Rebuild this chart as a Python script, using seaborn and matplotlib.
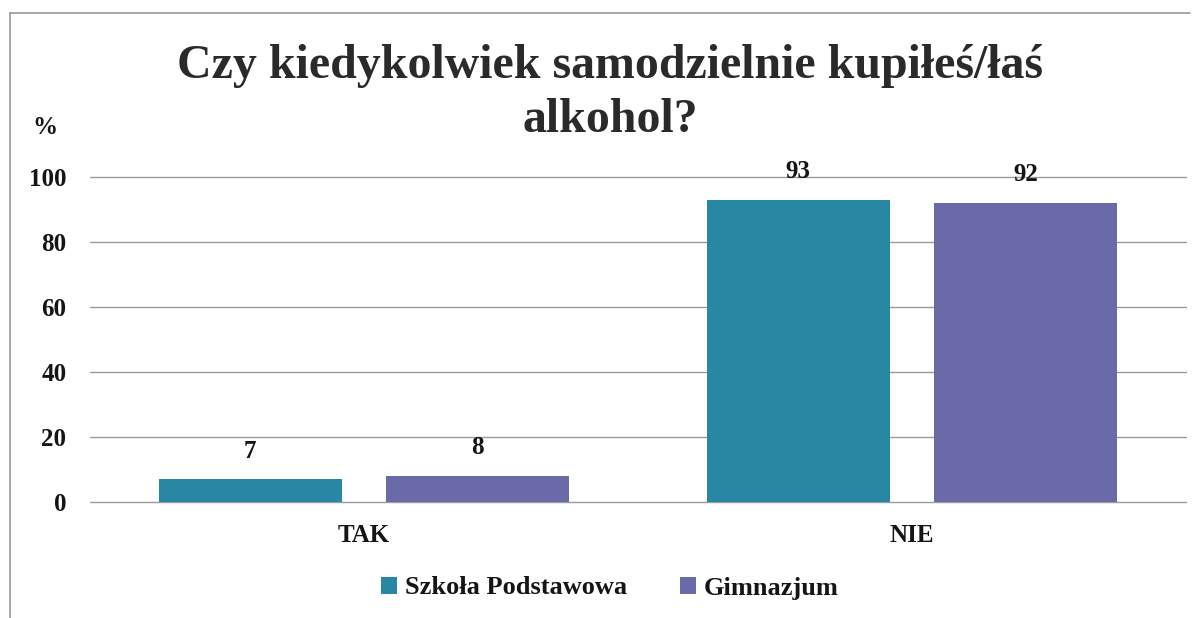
import matplotlib.pyplot as plt
import seaborn as sns
import pandas as pd
from matplotlib.lines import Line2D

# data
answers = ['TAK', 'NIE']
szkola_podstawowa = [7, 93]
gimnazjum = [8, 92]
series_names = ['Szkoła Podstawowa', 'Gimnazjum']
colors = ['#2888a3', '#6b6aa8']
yticks = [0, 20, 40, 60, 80, 100]

df = pd.DataFrame({
    'answer': answers * 2,
    'value': szkola_podstawowa + gimnazjum,
    'school': [series_names[0]] * 2 + [series_names[1]] * 2,
})

sns.set_theme(style='white')
plt.rcParams['font.family'] = ['Liberation Serif', 'DejaVu Serif']
plt.rcParams['font.weight'] = 'bold'
text_color = '#151515'

W, H = 1201, 618
fig = plt.figure(figsize=(W / 100, H / 100), dpi=100)
ax = fig.add_axes([90 / W, (H - 502) / H, 1096 / W, 325 / H])

sns.barplot(data=df, x='answer', y='value', hue='school', order=answers,
            hue_order=series_names, palette=colors, width=0.83, gap=0.195,
            saturation=1, linewidth=0, ax=ax)

ax.set_ylim(0, 100)
ax.set_xlim(-0.5, 1.5)
ax.set_yticks(yticks)
ax.yaxis.grid(True, color='#9a9a9a', lw=1)
for gl in ax.yaxis.get_gridlines():
    gl.set_clip_on(False)
ax.set_axisbelow(True)
for s in ax.spines.values():
    s.set_visible(False)
ax.set_xlabel('')
ax.set_ylabel('')
ax.tick_params(axis='y', length=0, pad=17, labelsize=18, labelcolor=text_color)
ax.tick_params(axis='x', length=0, pad=16, labelsize=18, labelcolor=text_color)

for cont in ax.containers:
    ax.bar_label(cont, padding=12, fontsize=18, fontweight='bold', color=text_color)

handles, labels = ax.get_legend_handles_labels()
ax.get_legend().remove()
fig.legend(handles, labels, loc='center', bbox_to_anchor=(610 / W, 1 - 588 / H),
           ncol=2, frameon=False, fontsize=19, handlelength=0.6, handleheight=0.6,
           handletextpad=0.3, columnspacing=2.0, labelcolor=text_color)

fig.text(610 / W, 1 - 93 / H, 'Czy kiedykolwiek samodzielnie kupiłeś/łaś\nalkohol?',
         ha='center', va='center', fontsize=34.5, fontweight='bold',
         linespacing=1.3, color='#2a2a2a')
fig.text(45 / W, 1 - 128 / H, '%', ha='center', va='center', fontsize=18,
         fontweight='bold', color=text_color)

# outer chart frame
fig.add_artist(Line2D([10 / W, 1190 / W], [1 - 13 / H, 1 - 13 / H],
                      transform=fig.transFigure, color='#9a9a9a', lw=1.2))
fig.add_artist(Line2D([10 / W, 10 / W], [1 - 13 / H, 0],
                      transform=fig.transFigure, color='#9a9a9a', lw=1.2))

fig.savefig('out.png', dpi=100, facecolor='white')
